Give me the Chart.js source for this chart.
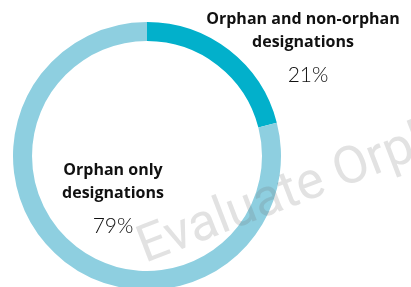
<!DOCTYPE html>
<html>
<head>
<meta charset="utf-8">
<script src="https://cdn.jsdelivr.net/npm/chart.js@4.4.0/dist/chart.umd.min.js"></script>
<style>
  html, body { margin: 0; padding: 0; background: #fff; overflow: hidden; }
  .wrap { position: relative; width: 411px; height: 300px; }
</style>
</head>
<body>
<div class="wrap"><canvas id="chart"></canvas></div>
<script>
const categories = ['Orphan and non-orphan designations', 'Orphan only designations'];
const shares = [21, 79];
const sliceColors = ['#02b0cb', '#8ecfe0'];

// label text for each slice, placed by hand like the original
const labelSpots = [
    { lines: ['Orphan and non-orphan', 'designations'], x: 303, y: 19, pctX: 308 },
    { lines: ['Orphan only', 'designations'], x: 113, y: 170, pctX: 113 },
];

const labelsPlugin = {
    id: 'sliceLabels',
    afterDraw(chart) {
        const c = chart.ctx;
        c.save();
        // watermark
        c.save();
        c.translate(145, 263);
        c.rotate(-21 * Math.PI / 180);
        c.font = '52px Roboto';
        c.fillStyle = 'rgba(110,110,110,0.2)';
        c.textBaseline = 'alphabetic';
        c.fillText('Evaluate Orphan', 0, 0);
        c.restore();

        c.textAlign = 'center';
        c.fillStyle = '#111';
        labelSpots.forEach((spot, i) => {
            c.font = 'bold 16px "Open Sans"';
            c.textBaseline = 'middle';
            spot.lines.forEach((ln, j) => {
                c.fillText(ln, spot.x, spot.y + j * 23.5);
            });
            c.font = '300 21px Lato';
            c.fillText(shares[i] + '%', spot.pctX, spot.y + 56);
        });
        c.restore();
    }
};

new Chart(document.getElementById('chart'), {
    type: 'doughnut',
    data: {
        labels: categories,
        datasets: [{
            data: shares,
            backgroundColor: sliceColors,
            borderWidth: 0,
        }],
    },
    options: {
        responsive: true,
        maintainAspectRatio: false,
        animation: false,
        cutout: '85.8%',
        layout: { padding: { left: 13, right: 130, top: 22, bottom: 10 } },
        plugins: {
            legend: { display: false },
            tooltip: { enabled: false },
        },
    },
    plugins: [labelsPlugin],
});
</script>
</body>
</html>
